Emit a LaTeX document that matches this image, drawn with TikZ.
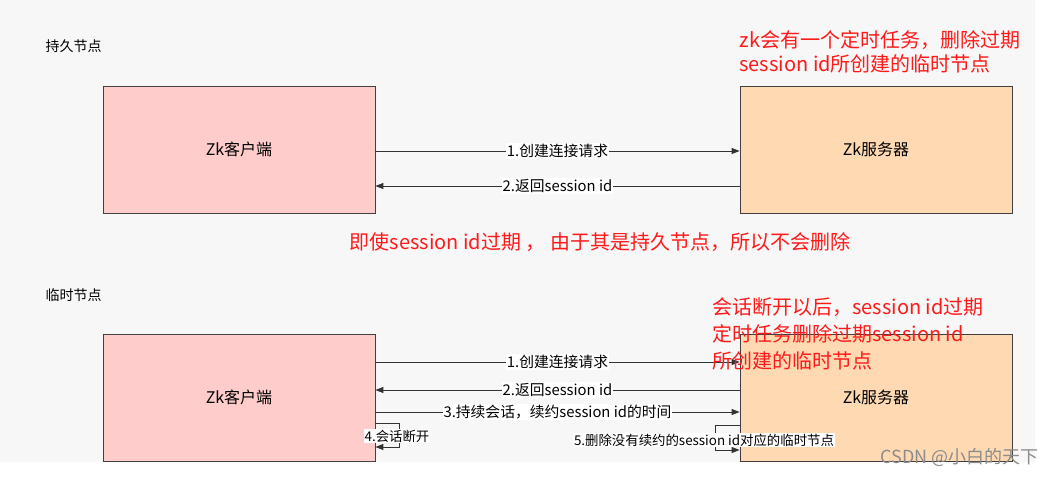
\documentclass[tikz,border=0pt]{standalone}
\usepackage{fontspec}
\setmainfont{Noto Sans CJK SC}
\usetikzlibrary{arrows.meta}
\begin{document}
\begin{tikzpicture}[x=1pt,y=-1pt,
  box/.style={draw=black!75,line width=0.8pt,minimum width=272pt,minimum height=127pt,inner sep=0pt,font=\fontsize{16}{18}\selectfont},
  conn/.style={draw=black!80,line width=1pt,-{Triangle[length=8pt,width=6pt]}},
  lab/.style={fill=white,inner sep=1pt,font=\fontsize{14.8}{17}\selectfont},
  slab/.style={fill=white,inner sep=1pt,font=\fontsize{13.4}{15}\selectfont},
  red/.style={text=red!90!white,font=\fontsize{20}{24}\selectfont,align=left,anchor=west},
  hd/.style={font=\fontsize{14}{16}\selectfont,anchor=west}]
\useasboundingbox (0,0) rectangle (1058,477);
\fill[white] (0,0) rectangle (1058,477);
\fill[black!3] (0,0) rectangle (1035,462);
\node[hd] (h1) at (42,46) {持久节点};
\node[hd] (h2) at (42,295) {临时节点};
\node[box,fill=pink!80!white] (c1) at (239,149.5) {Zk客户端};
\node[box,fill=orange!30!white] (s1) at (876,149.5) {Zk服务器};
\node[box,fill=pink!80!white] (c2) at (239,397.5) {Zk客户端};
\node[box,fill=orange!30!white] (s2) at (876,397.5) {Zk服务器};
\draw[conn] (c1.east|-0,151) -- node[lab]{1.创建连接请求} (s1.west|-0,151);
\draw[conn] (s1.west|-0,186) -- node[lab]{2.返回session id} (c1.east|-0,186);
\draw[conn] (c2.east|-0,362) -- node[lab]{1.创建连接请求} (s2.west|-0,362);
\draw[conn] (s2.west|-0,390) -- node[lab]{2.返回session id} (c2.east|-0,390);
\draw[conn] (c2.east|-0,412) -- node[lab]{3.持续会话，续约session id的时间} (s2.west|-0,412);
\draw[conn] (c2.east|-0,423) -- ++(24,0) -- ++(0,24) -- (c2.east|-0,447);
\node[slab] (l4) at (397,436) {4.会话断开};
\draw[conn] (s2.west|-0,425) -- ++(-24,0) -- ++(0,25) -- (s2.west|-0,450);
\node[slab] (l5) at (704,440) {5.删除没有续约的session id对应的临时节点};
\node[red] (r1) at (736,52) {zk会有一个定时任务，删除过期\\session id所创建的临时节点};
\node[red,anchor=center] (r2) at (600,242) {即使session id过期 ， 由于其是持久节点，所以不会删除};
\node[red,font=\fontsize{20}{27}\selectfont] (r3) at (709,334) {会话断开以后，session id过期\\定时任务删除过期session id\\所创建的临时节点};
\node[text=black!45,font=\fontsize{18}{20}\selectfont,anchor=east] (wm) at (1042,457) {CSDN @小白的天下};
\end{tikzpicture}
\end{document}
